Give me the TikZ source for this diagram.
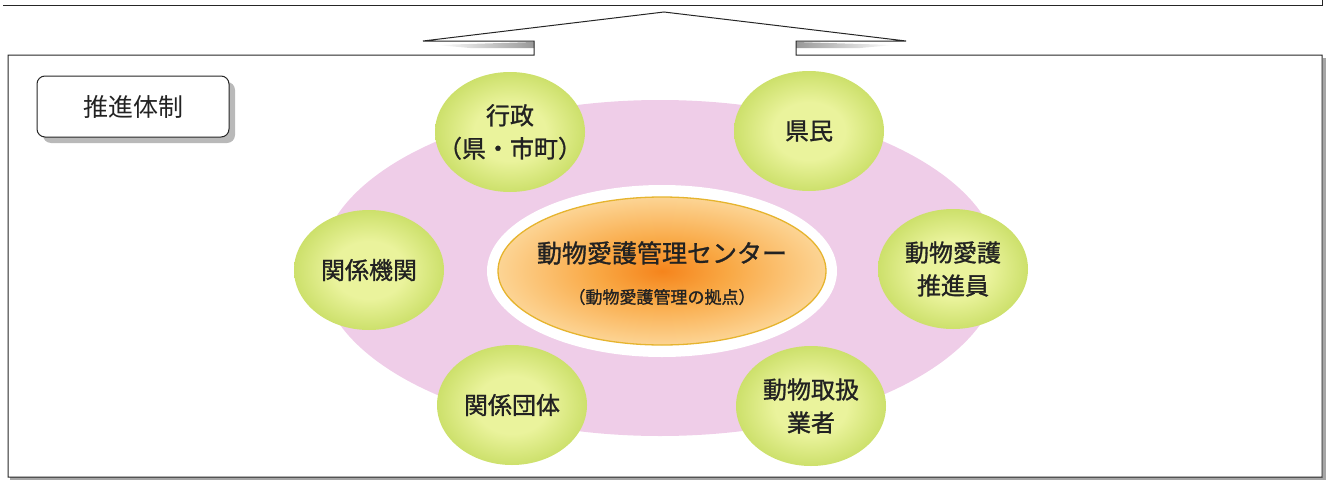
\documentclass[tikz,border=0pt]{standalone}
\usepackage{fontspec}
\setmainfont{Noto Sans CJK JP}[BoldFont=Noto Sans CJK JP, BoldFeatures={FakeBold=1.2}]
\usetikzlibrary{shapes.geometric}
\definecolor{pinkbg}{HTML}{EFCDE8}
\definecolor{gA}{HTML}{EAF39C}
\definecolor{gB}{HTML}{BDD651}
\definecolor{gC}{HTML}{8AB12B}
\definecolor{oA}{HTML}{F5841C}
\definecolor{oB}{HTML}{F9A844}
\definecolor{oC}{HTML}{FDDDA4}
\definecolor{oD}{HTML}{FDF4DA}
\definecolor{goldline}{HTML}{E6B42E}
\definecolor{txt}{HTML}{222222}
\pgfdeclareradialshading{greenball}{\pgfpoint{0bp}{0bp}}{color(0bp)=(gA); color(12bp)=(gA); color(32bp)=(gB); color(50bp)=(gC)}
\pgfdeclareradialshading{orangeglow}{\pgfpoint{0bp}{0bp}}{color(0bp)=(oA); color(10bp)=(oB); color(28bp)=(oC); color(50bp)=(oD)}
\tikzset{
  gball/.style={ellipse, minimum width=150pt, minimum height=120pt, inner sep=0pt, shading=greenball},
  gtext/.style={align=center, text=txt, inner sep=0pt, font=\fontsize{24pt}{33pt}\selectfont\bfseries},
  frame/.style={line width=1pt, draw=black!85},
}
\begin{document}
\begin{tikzpicture}[x=1pt,y=-1pt]
\useasboundingbox (0,0) rectangle (1327,479);
% top box bottom edge
\draw[frame] (3,5) -- (1322,5) -- (1322,0);
% shadow of main box
\draw[gray!70, line width=2.5pt] (1324.5,58) -- (1324.5,478.5) -- (10,478.5);
% grey wedges in tabs
\shade[left color=white, right color=gray!80] (436,45) -- (534,42) -- (534,48) -- (470,48) -- cycle;
\shade[left color=gray!80, right color=white] (796,42) -- (894,45) -- (860,48) -- (796,48) -- cycle;
% main box with arrow top
\draw[frame] (423,41) -- (664,12) -- (906,41) -- (796,41) -- (796,55) -- (1322,55)
  -- (1322,477) -- (8,477) -- (8,55) -- (534,55) -- (534,41) -- cycle;
% label
\fill[gray!55, rounded corners=8pt] (43,82) rectangle (235,143);
\node[draw=black!85, line width=1pt, rounded corners=8pt, fill=white, minimum width=192pt,
  minimum height=61pt, text=txt, font=\fontsize{25pt}{30pt}\selectfont] (label) at (133,106.5) {推進体制};
% pink ring
\node[ellipse, minimum width=680pt, minimum height=336pt, fill=pinkbg, inner sep=0pt] (ring) at (660,268) {};
% center
\node[ellipse, minimum width=350pt, minimum height=172pt, fill=white, inner sep=0pt] (halo) at (662,271) {};
\node[ellipse, minimum width=328pt, minimum height=148pt, shading=orangeglow, draw=goldline,
  line width=1.3pt, inner sep=0pt] (center) at (662,271) {};
\node[text=txt, font=\fontsize{25pt}{30pt}\selectfont\bfseries] (ctitle) at (662,253) {動物愛護管理センター};
\node[text=txt, font=\fontsize{17pt}{20pt}\selectfont\bfseries] (csub) at (662,297) {（動物愛護管理の拠点）};
% green balls
\node[gball] (gyosei) at (510,132) {};
\node[gtext] (gyosei-t) at (gyosei) {行政\\（県・市町）};
\node[gball] (kenmin) at (809,131) {};
\node[gtext] (kenmin-t) at (kenmin) {県民};
\node[gball] (kikan) at (369,270) {};
\node[gtext] (kikan-t) at (kikan) {関係機関};
\node[gball] (suishin) at (953,269) {};
\node[gtext] (suishin-t) at (suishin) {動物愛護\\推進員};
\node[gball] (dantai) at (512,405) {};
\node[gtext] (dantai-t) at (dantai) {関係団体};
\node[gball] (gyosha) at (811,406) {};
\node[gtext] (gyosha-t) at (gyosha) {動物取扱\\業者};
\end{tikzpicture}
\end{document}
